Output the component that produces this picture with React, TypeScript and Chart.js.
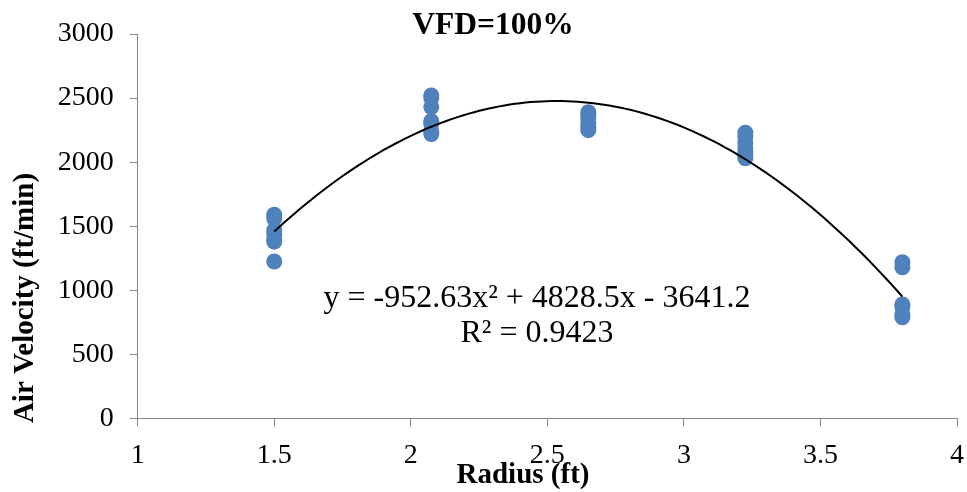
import { useEffect, useRef } from 'react';
import { Chart, registerables } from 'chart.js';

Chart.register(...registerables);

// Measurement radii (ft) and air velocity readings (ft/min) at each radius
const radiusFt = [1.5, 2.075, 2.65, 3.225, 3.8];
const velocityR1 = [1590, 1560, 1470, 1440, 1400, 1380, 1225];
const velocityR2 = [2520, 2500, 2430, 2320, 2300, 2240, 2220];
const velocityR3 = [2390, 2370, 2340, 2300, 2270, 2250];
const velocityR4 = [2230, 2200, 2150, 2110, 2080, 2050, 2030];
const velocityR5 = [1220, 1180, 890, 870, 810, 790];

// Polynomial trendline y = a x^2 + b x + c
const fitA = -952.63;
const fitB = 4828.5;
const fitC = -3641.2;
const fitR2 = 0.9423;

const xTicks = [1, 1.5, 2, 2.5, 3, 3.5, 4];
const yTicks = [0, 500, 1000, 1500, 2000, 2500, 3000];

const chartTitle = 'VFD=100%';
const xTitle = 'Radius (ft)';
const yTitle = 'Air Velocity (ft/min)';

const W = 967;
const H = 492;
const AXIS = '#868686';
const DOT = '#4F81BD';
const SERIF = '"Liberation Serif", "Times New Roman", serif';

const groups = [velocityR1, velocityR2, velocityR3, velocityR4, velocityR5];

function scatterPoints() {
  const pts: { x: number; y: number }[] = [];
  groups.forEach((vals, i) => vals.forEach((v) => pts.push({ x: radiusFt[i], y: v })));
  return pts;
}

function trendPoints() {
  const x0 = radiusFt[0];
  const x1 = radiusFt[radiusFt.length - 1];
  const n = 120;
  const pts: { x: number; y: number }[] = [];
  for (let i = 0; i <= n; i++) {
    const x = x0 + ((x1 - x0) * i) / n;
    pts.push({ x, y: fitA * x * x + fitB * x + fitC });
  }
  return pts;
}

const textPlugin = {
  id: 'chartTexts',
  afterDraw(chart: any) {
    const ctx = chart.ctx as CanvasRenderingContext2D;
    ctx.save();
    ctx.fillStyle = '#000';
    ctx.textAlign = 'center';
    ctx.textBaseline = 'middle';

    ctx.font = `bold 31.5px ${SERIF}`;
    ctx.fillText(chartTitle, 493, 26);

    ctx.font = `bold 29px ${SERIF}`;
    ctx.fillText(xTitle, 523, 476);

    ctx.save();
    ctx.translate(26, 298);
    ctx.rotate(-Math.PI / 2);
    ctx.fillText(yTitle, 0, 0);
    ctx.restore();

    const sign = (v: number) => (v < 0 ? '- ' + Math.abs(v) : '+ ' + v);
    ctx.font = `32px ${SERIF}`;
    ctx.fillText(`y = ${fitA}x² ${sign(fitB)}x ${sign(fitC)}`, 537, 299);
    ctx.fillText(`R² = ${fitR2}`, 537, 334);
    ctx.restore();
  },
};

export default function App() {
  const ref = useRef<HTMLCanvasElement>(null);

  useEffect(() => {
    const canvas = ref.current;
    if (!canvas) return;
    const chart = new Chart(canvas, {
      type: 'scatter',
      data: {
        datasets: [
          {
            type: 'line',
            label: 'trend',
            data: trendPoints(),
            borderColor: '#000',
            borderWidth: 2,
            pointRadius: 0,
            fill: false,
            tension: 0,
            order: 0,
          },
          {
            label: 'velocity',
            data: scatterPoints(),
            backgroundColor: DOT,
            borderColor: DOT,
            borderWidth: 0,
            pointRadius: 8,
            order: 1,
          },
        ],
      } as any,
      options: {
        responsive: false,
        animation: false,
        devicePixelRatio: 1,
        layout: { padding: { top: 34, right: 10, left: 0, bottom: 0 } },
        plugins: {
          legend: { display: false },
          title: { display: false },
          tooltip: { enabled: false },
        },
        scales: {
          x: {
            type: 'linear',
            min: xTicks[0],
            max: xTicks[xTicks.length - 1],
            afterBuildTicks: (s: any) => {
              s.ticks = xTicks.map((v) => ({ value: v }));
            },
            afterFit: (s: any) => {
              s.height = 73.5;
              s.paddingLeft = 0;
              s.paddingRight = 0;
            },
            grid: { drawOnChartArea: false, drawTicks: true, tickLength: 8, color: AXIS },
            border: { color: AXIS, width: 1 },
            ticks: {
              color: '#000',
              font: { family: SERIF, size: 28 },
              padding: 12,
              maxRotation: 0,
              autoSkip: false,
              callback: (v: any) => String(v),
            },
          },
          y: {
            type: 'linear',
            min: yTicks[0],
            max: yTicks[yTicks.length - 1],
            afterBuildTicks: (s: any) => {
              s.ticks = yTicks.map((v) => ({ value: v }));
            },
            afterFit: (s: any) => {
              s.width = 137.7;
              s.paddingTop = 0;
              s.paddingBottom = 0;
            },
            grid: { drawOnChartArea: false, drawTicks: true, tickLength: 8, color: AXIS },
            border: { color: AXIS, width: 1 },
            ticks: {
              color: '#000',
              font: { family: SERIF, size: 28 },
              padding: 16,
              autoSkip: false,
              callback: (v: any) => String(v),
            },
          },
        },
      } as any,
      plugins: [textPlugin],
    });
    return () => chart.destroy();
  }, []);

  return (
    <div style={{ position: 'absolute', left: 0, top: 0, width: W, height: H, background: '#fff' }}>
      <canvas ref={ref} width={W} height={H} style={{ display: 'block', width: W, height: H }} />
    </div>
  );
}
